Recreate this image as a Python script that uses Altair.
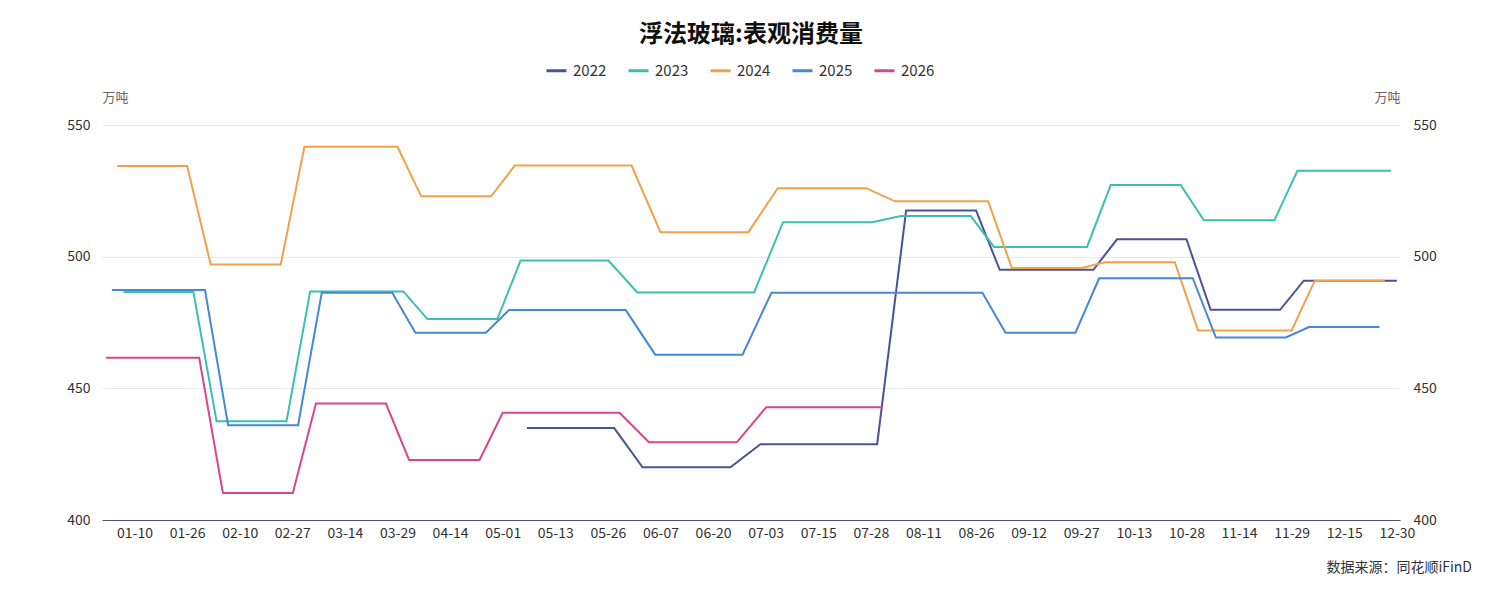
import altair as alt
import pandas as pd

# x-axis category labels (label i sits at position i)
x_labels = ["01-10", "01-26", "02-10", "02-27", "03-14", "03-29", "04-14", "05-01",
            "05-13", "05-26", "06-07", "06-20", "07-03", "07-15", "07-28", "08-11",
            "08-26", "09-12", "09-27", "10-13", "10-28", "11-14", "11-29", "12-15", "12-30"]
years = ["2022", "2023", "2024", "2025", "2026"]
colors = ["#4b5396", "#3dbfb0", "#f2a14a", "#4389d3", "#d8468c"]

# positions along the category axis (in label units) and values (万吨)
pos_2022 = [7.46, 9.12, 9.66, 11.33, 11.90, 14.12, 14.67, 16.00, 16.45, 18.23, 18.68,
            20.00, 20.46, 21.78, 22.23, 24.00]
val_2022 = [434.9, 434.9, 420.0, 420.0, 428.8, 428.8, 517.5, 517.5, 495.0, 495.0, 506.6,
            506.6, 479.8, 479.8, 490.9, 490.9]

pos_2023 = [-0.21, 1.12, 1.56, 2.89, 3.34, 5.11, 5.57, 6.90, 7.34, 9.01, 9.56, 11.78,
            12.33, 14.02, 14.57, 15.90, 16.34, 18.11, 18.56, 19.89, 20.33, 21.67, 22.11, 23.89]
val_2023 = [486.6, 486.6, 437.5, 437.5, 486.8, 486.8, 476.3, 476.3, 498.5, 498.5, 486.4, 486.4,
            513.1, 513.1, 515.4, 515.4, 503.7, 503.7, 527.2, 527.2, 513.8, 513.8, 532.6, 532.6]

pos_2024 = [-0.33, 1.00, 1.45, 2.78, 3.23, 5.00, 5.45, 6.78, 7.23, 9.45, 10.00, 11.67,
            12.23, 13.91, 14.46, 16.23, 16.68, 18.01, 18.45, 19.78, 20.22, 22.00, 22.44, 23.77]
val_2024 = [534.4, 534.4, 497.0, 497.0, 541.7, 541.7, 522.9, 522.9, 534.6, 534.6, 509.3, 509.3,
            526.0, 526.0, 521.0, 521.0, 495.7, 495.7, 497.9, 497.9, 472.0, 472.0, 490.9, 490.9]

pos_2025 = [-0.43, 1.34, 1.78, 3.11, 3.56, 4.90, 5.34, 6.68, 7.12, 9.34, 9.90, 11.56,
            12.11, 16.12, 16.56, 17.89, 18.34, 20.12, 20.56, 21.89, 22.33, 23.67]
val_2025 = [487.3, 487.3, 436.0, 436.0, 486.3, 486.3, 471.1, 471.1, 479.7, 479.7, 462.8, 462.8,
            486.3, 486.3, 471.1, 471.1, 491.8, 491.8, 469.3, 469.3, 473.3, 473.3]

pos_2026 = [-0.54, 1.23, 1.68, 3.01, 3.45, 4.78, 5.22, 6.56, 7.00, 9.22, 9.78, 11.45,
            12.01, 14.22]
val_2026 = [461.6, 461.6, 410.3, 410.3, 444.2, 444.2, 422.8, 422.8, 440.7, 440.7, 429.5, 429.5,
            442.8, 442.8]

series = {"2022": (pos_2022, val_2022), "2023": (pos_2023, val_2023),
          "2024": (pos_2024, val_2024), "2025": (pos_2025, val_2025),
          "2026": (pos_2026, val_2026)}
rows = []
for yr, (pos, val) in series.items():
    for p, v in zip(pos, val):
        rows.append({"year": yr, "pos": p, "value": v})
df = pd.DataFrame(rows)

font = "Noto Sans CJK SC"
label_js = "[" + ",".join("'%s'" % l for l in x_labels) + "]"

x_enc = alt.X(
    "pos:Q",
    scale=alt.Scale(domain=[-0.618, 24.06], nice=False, zero=False),
    axis=alt.Axis(values=list(range(len(x_labels))), labelExpr=label_js + "[datum.value]",
                  title=None, grid=False, ticks=False, domain=True, domainColor="#4b5575",
                  labelColor="#333", labelFontSize=14, labelPadding=6, labelFont=font,
                  labelOverlap=False, labelFlush=False),
)
y_scale = alt.Scale(domain=[400, 550], nice=False, zero=False)

lines = alt.Chart(df).mark_line(strokeWidth=2).encode(
    x=x_enc,
    y=alt.Y("value:Q", scale=y_scale,
            axis=alt.Axis(values=[400, 450, 500, 550], title="万吨", titleAngle=0,
                          titleX=0, titleY=-28, titleAlign="left", titleBaseline="middle",
                          titleFontSize=13, titleColor="#666", titleFontWeight="normal",
                          titleFont=font, grid=True, gridColor="#e8e8f2", domain=False,
                          domainColor="transparent", ticks=False, labelPadding=12,
                          labelFontSize=14, labelColor="#333", labelFont=font)),
    color=alt.Color("year:N", scale=alt.Scale(domain=years, range=colors),
                    legend=alt.Legend(orient="none", legendX=443, legendY=-66,
                                      direction="horizontal", title=None,
                                      symbolType="stroke", symbolStrokeWidth=3,
                                      symbolSize=400, labelFontSize=15, labelColor="#333",
                                      labelFont=font, columnPadding=15, labelOffset=5)),
)

right = alt.Chart(df).mark_line(opacity=0, strokeOpacity=0).encode(
    x=x_enc,
    y=alt.Y("value:Q", scale=y_scale,
            axis=alt.Axis(orient="right", values=[400, 450, 500, 550], title="万吨",
                          titleAngle=0, titleX=0, titleY=-28, titleAlign="right",
                          titleBaseline="middle", titleFontSize=13, titleColor="#666",
                          titleFontWeight="normal", titleFont=font, grid=False,
                          domain=False, domainColor="transparent", ticks=False,
                          labelPadding=13, labelFontSize=14, labelColor="#333",
                          labelFont=font)),
    detail="year:N",
)

source = alt.Chart(pd.DataFrame({"t": ["数据来源：同花顺iFinD"]})).mark_text(
    align="right", baseline="middle", fontSize=14, font=font, color="#333"
).encode(x=alt.value(1370), y=alt.value(443), text="t:N")

chart = alt.layer(lines, right, source).resolve_scale(y="independent").properties(
    width=1298, height=395,
    title=alt.TitleParams("浮法玻璃:表观消费量", fontSize=24, font=font, fontWeight="bold",
                          color="#111", anchor="middle", dy=-8),
    autosize=alt.AutoSizeParams(type="none"),
    padding={"left": 94, "top": 117, "right": 93, "bottom": 68},
    view=alt.ViewBackground(stroke="transparent", strokeWidth=0),
).configure_view(stroke="transparent", strokeWidth=0, strokeOpacity=0).configure_axisY(
    domain=False, domainColor="transparent").configure(background="white")

chart.save("out.html", embed_options={"renderer": "svg", "actions": False})
